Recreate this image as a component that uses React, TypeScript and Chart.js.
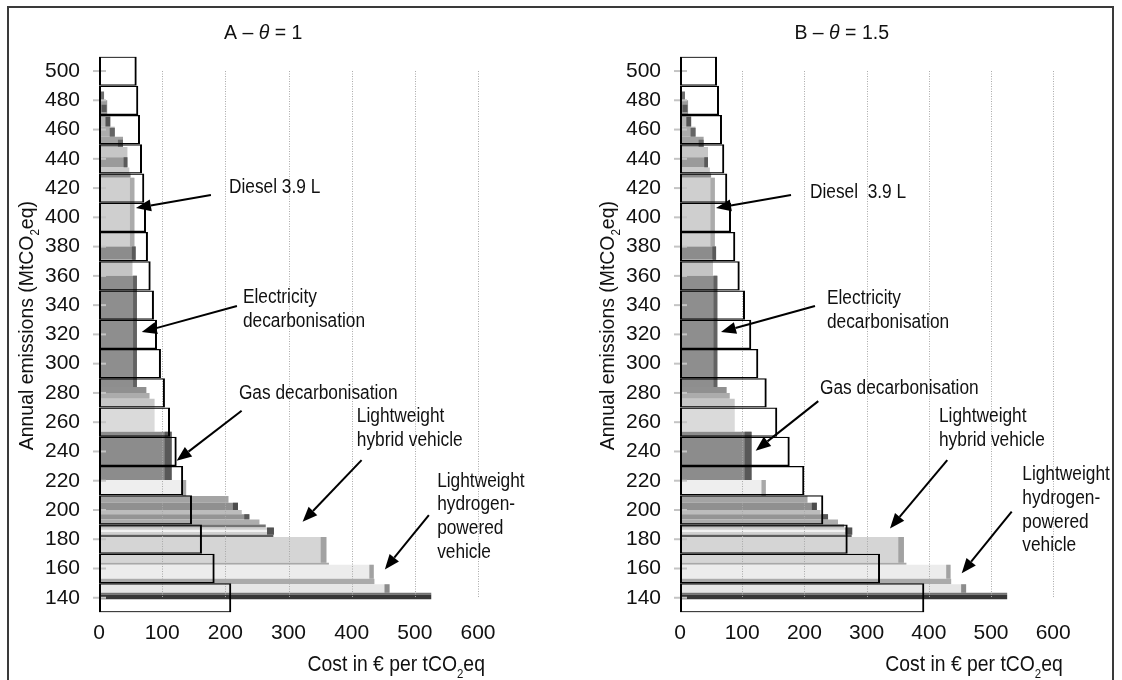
import React, { useEffect, useRef } from 'react';
import { Chart, registerables } from 'chart.js';

Chart.register(...registerables);

// ---------- data ----------
const emissionLevels = [140, 160, 180, 200, 220, 240, 260, 280, 300, 320, 340, 360, 380, 400, 420, 440, 460, 480, 500];
const costThetaOne = [209.4, 183.1, 163, 147.2, 133.2, 123, 112.4, 104.4, 98.1, 91.8, 87, 81.8, 77.5, 74.4, 71.7, 68.1, 64.9, 62.2, 59.7];
const costThetaOneHalf = [392.8, 321.6, 269.6, 230.4, 199.9, 176.4, 156.4, 139.4, 125.9, 114.6, 104.5, 96, 88.9, 82, 76, 71.2, 67.5, 62.7, 59.5];

const xTickValues = [0, 100, 200, 300, 400, 500, 600];
const yTickValues = [140, 160, 180, 200, 220, 240, 260, 280, 300, 320, 340, 360, 380, 400, 420, 440, 460, 480, 500];
const gridValues = [100, 200, 300, 400, 500, 600];

// background marginal-abatement picture (shared by both panels): emission band and cost span
const macLow = [480, 470, 472, 462, 462, 455, 455, 448, 448, 441, 434, 434, 430, 427, 380, 380, 371, 371, 360, 284, 284, 280, 276, 270.5, 253.5, 220.5, 220.5, 209.5, 209.5, 205, 200, 200, 197, 193.5, 193.5, 190, 188, 183, 185, 183, 181.5, 164, 164, 162.5, 153, 153, 149.2, 143.5, 143.5, 142, 139];
const macHigh = [486, 480, 477, 470, 469, 462, 461, 455, 453, 448, 441, 441, 434, 430, 427, 427, 380, 380, 371, 360, 360, 284, 280, 276, 270.5, 253.5, 253.5, 220.5, 220.5, 209.5, 205, 205, 200, 197, 197, 193.5, 190, 188, 186.5, 188, 183, 181.5, 181.5, 164, 162.5, 162.5, 153, 149.2, 149.2, 143.5, 142];
const macFrom = [0, 0, 4, 0, 10, 0, 17, 0, 30, 0, 0, 39, 0, 0, 0, 49, 0, 52, 0, 0, 54, 0, 0, 0, 0, 0, 104, 0, 131, 0, 0, 212, 0, 0, 230, 0, 0, 0, 0, 266, 0, 0, 351, 0, 0, 428, 0, 0, 452, 0, 0];
const macTo = [8, 13, 12, 10, 18, 25, 25, 38, 38, 45, 45, 45, 48, 50, 56, 56, 58, 58, 53, 60, 60, 75, 80, 88, 88, 115, 115, 138, 138, 205, 220, 220, 226, 238, 238, 254, 264, 276, 270, 277, 276, 360, 360, 364, 435, 435, 436, 460, 460, 526, 526];

// styles of the picture bands
const macShade = ['#6e6e6e', '#9c9c9c', '#595959', '#b4b4b4', '#545454', '#acacac', '#646464', '#a2a2a2', '#6a6a6a', '#c6c6c6', '#9a9a9a', '#5a5a5a', '#cacaca', '#8c8c8c', '#cfcfcf', '#ababab', '#8c8c8c', '#5a5a5a', '#c4c4c4', '#8e8e8e', '#626262', '#909090', '#acacac', '#c6c6c6', '#dadada', '#8c8c8c', '#585858', '#eeeeee', '#a8a8a8', '#a4a4a4', '#909090', '#4c4c4c', '#bcbcbc', '#949494', '#585858', '#adadad', '#747474', '#d0d0d0', '#f2f2f2', '#525252', '#5c5c5c', '#d5d5d5', '#a2a2a2', '#a8a8a8', '#ececec', '#a2a2a2', '#aaaaaa', '#e6e6e6', '#8c8c8c', '#727272', '#373737'];

type Note = { lines: string[]; x: number; y: number; tail: [number, number]; tip: [number, number] };

const notesA: Note[] = [
  { lines: ['Diesel 3.9 L'], x: 205.7, y: 416.6, tail: [177.2, 415.2], tip: [58.5, 406.4] },
  { lines: ['Electricity', 'decarbonisation'], x: 227.8, y: 341.2, tail: [218.4, 339.4], tip: [67.7, 321.6] },
  { lines: ['Gas decarbonisation'], x: 221.5, y: 276.1, tail: [225.8, 267.8], tip: [122.9, 233.6] },
  { lines: ['Lightweight', 'hybrid vehicle'], x: 408.2, y: 260.1, tail: [415.7, 234.1], tip: [322.3, 191.9] },
  { lines: ['Lightweight', 'hydrogen-', 'powered', 'vehicle'], x: 535.3, y: 215.9, tail: [522.2, 196.5], tip: [452.5, 159.4] },
];
const notesB: Note[] = [
  { lines: ['Diesel  3.9 L'], x: 209, y: 413.2, tail: [178.5, 415.2], tip: [57.9, 406.4] },
  { lines: ['Electricity', 'decarbonisation'], x: 236.3, y: 340.5, tail: [217, 339.4], tip: [65.9, 321.6] },
  { lines: ['Gas decarbonisation'], x: 225.1, y: 279.2, tail: [222.3, 274.4], tip: [121.7, 240.5] },
  { lines: ['Lightweight', 'hybrid vehicle'], x: 416.4, y: 260.1, tail: [429.7, 234.1], tip: [337.6, 187.4] },
  { lines: ['Lightweight', 'hydrogen-', 'powered', 'vehicle'], x: 550.3, y: 220.4, tail: [533.3, 198.8], tip: [452.9, 156.7] },
];

// ---------- drawing helpers ----------
const FONT = "'Liberation Sans', Arial, Helvetica, sans-serif";

type Part = { t: string; sub?: boolean; italic?: boolean };

function measureParts(ctx: CanvasRenderingContext2D, parts: Part[], size: number, subSize: number) {
  let w = 0;
  for (const p of parts) {
    ctx.font = `${p.italic ? 'italic ' : ''}${p.sub ? subSize : size}px ${FONT}`;
    w += ctx.measureText(p.t).width;
  }
  return w;
}

function drawParts(ctx: CanvasRenderingContext2D, parts: Part[], x: number, y: number, size: number, subSize: number, subDrop: number, sx: number, align: 'left' | 'center') {
  ctx.save();
  ctx.translate(x, y);
  ctx.scale(sx, 1);
  ctx.textAlign = 'left';
  ctx.textBaseline = 'alphabetic';
  ctx.fillStyle = '#111';
  const total = measureParts(ctx, parts, size, subSize);
  let cx = align === 'center' ? -total / 2 : 0;
  for (const p of parts) {
    ctx.font = `${p.italic ? 'italic ' : ''}${p.sub ? subSize : size}px ${FONT}`;
    ctx.fillText(p.t, cx, p.sub ? subDrop : 0);
    cx += ctx.measureText(p.t).width;
  }
  ctx.restore();
}

function drawArrow(ctx: CanvasRenderingContext2D, x1: number, y1: number, x2: number, y2: number) {
  const ang = Math.atan2(y2 - y1, x2 - x1);
  const L = 15;
  const W = 6;
  const bx = x2 - L * Math.cos(ang);
  const by = y2 - L * Math.sin(ang);
  ctx.save();
  ctx.strokeStyle = '#000';
  ctx.fillStyle = '#000';
  ctx.lineWidth = 2;
  ctx.beginPath();
  ctx.moveTo(x1, y1);
  ctx.lineTo(bx, by);
  ctx.stroke();
  ctx.beginPath();
  ctx.moveTo(x2, y2);
  ctx.lineTo(bx + W * Math.sin(ang), by - W * Math.cos(ang));
  ctx.lineTo(bx - W * Math.sin(ang), by + W * Math.cos(ang));
  ctx.closePath();
  ctx.fill();
  ctx.restore();
}

type Panel = {
  letter: string;
  theta: string;
  costs: number[];
  notes: Note[];
  yAxisWidth: number;
  padRight: number;
};

function decorPlugin(p: Panel) {
  return {
    id: 'decor' + p.letter,
    beforeDatasetsDraw(chart: any) {
      // soften the pasted-picture look of the background bands
      chart.ctx.filter = 'blur(0.6px)';
    },
    beforeDatasetDraw(chart: any, args: any) {
      if (args.index !== 0) return;
      const { ctx, chartArea } = chart;
      ctx.filter = 'none';
      const x = chart.scales.x;
      const y = chart.scales.y;
      ctx.save();
      ctx.strokeStyle = '#a9a9a9';
      ctx.lineWidth = 1;
      ctx.setLineDash([1, 1.5]);
      const top = y.getPixelForValue(yTickValues[yTickValues.length - 1]);
      const bottom = y.getPixelForValue(yTickValues[0]);
      for (const v of gridValues) {
        const px = Math.round(x.getPixelForValue(v)) + 0.5;
        ctx.beginPath();
        ctx.moveTo(px, top);
        ctx.lineTo(px, bottom);
        ctx.stroke();
      }
      ctx.setLineDash([]);
      ctx.strokeStyle = '#c4c4c4';
      ctx.lineWidth = 2;
      for (const v of yTickValues) {
        const py = y.getPixelForValue(v);
        ctx.beginPath();
        ctx.moveTo(chartArea.left - 6, py);
        ctx.lineTo(chartArea.left + 7, py);
        ctx.stroke();
      }
      ctx.restore();
    },
    afterDraw(chart: any) {
      const { ctx, chartArea } = chart;
      ctx.filter = 'none';
      const x = chart.scales.x;
      const y = chart.scales.y;
      // panel title
      drawParts(ctx, [{ t: p.letter + ' \u2013 ' }, { t: '\u03b8', italic: true }, { t: ' = ' + p.theta }],
        x.getPixelForValue(260), chartArea.top - 17.4, 19.5, 19.5, 0, 1, 'center');
      // x axis title
      drawParts(ctx, [{ t: 'Cost in \u20ac per tCO' }, { t: '2', sub: true }, { t: 'eq' }],
        x.getPixelForValue(330), chartArea.bottom + 58.6, 22, 13, 7, 0.88, 'left');
      // y axis title (rotated)
      ctx.save();
      ctx.translate(chartArea.left - 66, y.getPixelForValue(326));
      ctx.rotate(-Math.PI / 2);
      drawParts(ctx, [{ t: 'Annual emissions (MtCO' }, { t: '2', sub: true }, { t: 'eq)' }], 0, 0, 20, 12, 6, 0.97, 'center');
      ctx.restore();
      // annotations
      for (const n of p.notes) {
        const tx = x.getPixelForValue(n.x);
        const ty = y.getPixelForValue(n.y);
        n.lines.forEach((line, i) => {
          drawParts(ctx, [{ t: line }], tx, ty + i * 23.7, 20, 20, 0, 0.865, 'left');
        });
        drawArrow(ctx, x.getPixelForValue(n.tail[0]), y.getPixelForValue(n.tail[1]),
          x.getPixelForValue(n.tip[0]), y.getPixelForValue(n.tip[1]));
      }
    },
  };
}

function buildConfig(p: Panel): any {
  const outline = {
    type: 'bar',
    indexAxis: 'y',
    order: 1,
    data: emissionLevels.map((e, i) => ({ y: e, x: p.costs[i] })),
    backgroundColor: 'rgba(0,0,0,0)',
    borderColor: '#000',
    borderWidth: { left: 2, right: 2, top: 1.25, bottom: 1.25 },
    borderSkipped: false,
    inflateAmount: 0,
    barPercentage: 1,
    categoryPercentage: 1,
  };
  const bands = macLow.map((lo, i) => ({
    type: 'line',
    order: 2,
    data: [
      { x: macFrom[i], y: lo },
      { x: macTo[i], y: lo },
      { x: macTo[i], y: macHigh[i] },
      { x: macFrom[i], y: macHigh[i] },
      { x: macFrom[i], y: lo },
    ],
    fill: 'shape',
    backgroundColor: macShade[i],
    borderWidth: 0,
    pointRadius: 0,
    pointHitRadius: 0,
    tension: 0,
  })).reverse();

  const tickFont = { family: FONT, size: 21 };
  return {
    type: 'bar',
    data: { datasets: [outline, ...bands] },
    options: {
      responsive: false,
      animation: false,
      events: [],
      layout: { padding: { top: 48.4, right: p.padRight, bottom: 0, left: 0 } },
      plugins: { legend: { display: false }, tooltip: { enabled: false }, title: { display: false } },
      scales: {
        x: {
          type: 'linear',
          position: 'bottom',
          offset: false,
          min: 0,
          max: 600,
          afterBuildTicks: (s: any) => { s.ticks = xTickValues.map((v) => ({ value: v })); },
          afterFit: (s: any) => { s.height = 67.6; },
          grid: { display: false, drawTicks: false, offset: false },
          border: { display: false },
          ticks: { font: tickFont, color: '#111', padding: 8, autoSkip: false, maxRotation: 0 },
        },
        y: {
          type: 'linear',
          position: 'left',
          offset: false,
          min: 130,
          max: 510,
          afterBuildTicks: (s: any) => { s.ticks = yTickValues.map((v) => ({ value: v })); },
          afterFit: (s: any) => { s.width = p.yAxisWidth; },
          grid: { display: false, drawTicks: false, offset: false },
          border: { display: false },
          ticks: { font: tickFont, color: '#111', padding: 19, autoSkip: false },
        },
      },
    },
    plugins: [decorPlugin(p)],
  };
}

const panelA: Panel = { letter: 'A', theta: '1', costs: costThetaOne, notes: notesA, yAxisWidth: 90, padRight: 102 };
const panelB: Panel = { letter: 'B', theta: '1.5', costs: costThetaOneHalf, notes: notesB, yAxisWidth: 100, padRight: 58.8 };

export default function App() {
  const refA = useRef<HTMLCanvasElement>(null);
  const refB = useRef<HTMLCanvasElement>(null);

  useEffect(() => {
    const a = new Chart(refA.current as HTMLCanvasElement, buildConfig(panelA));
    const b = new Chart(refB.current as HTMLCanvasElement, buildConfig(panelB));
    return () => {
      a.destroy();
      b.destroy();
    };
  }, []);

  return (
    <div
      style={{
        position: 'absolute',
        left: 7,
        top: 6,
        width: 1107,
        height: 720,
        border: '2px solid #3a3a3a',
        boxSizing: 'border-box',
        background: '#fff',
      }}
    >
      <canvas ref={refA} width={571} height={672} style={{ position: 'absolute', left: 0, top: 0 }} />
      <canvas ref={refB} width={532} height={672} style={{ position: 'absolute', left: 571, top: 0 }} />
    </div>
  );
}
